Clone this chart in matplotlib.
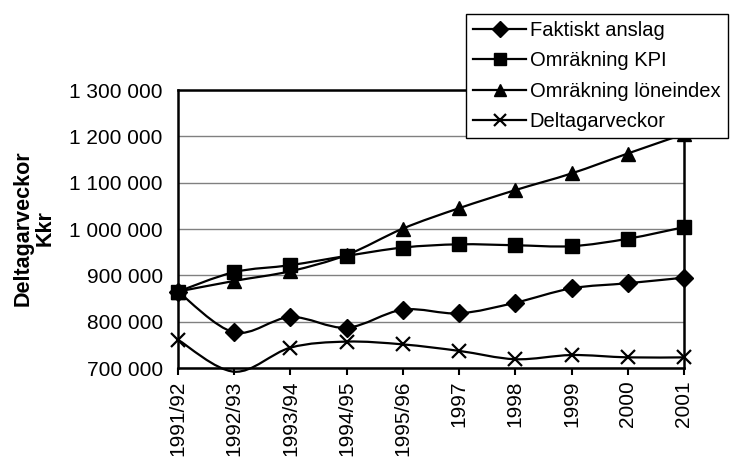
import matplotlib
matplotlib.use("Agg")
import matplotlib.pyplot as plt
import numpy as np
from matplotlib.path import Path
from matplotlib.patches import PathPatch
from matplotlib.lines import Line2D

plt.rcParams["font.family"] = ["Liberation Sans", "DejaVu Sans"]

years = ["1991/92", "1992/93", "1993/94", "1994/95", "1995/96",
         "1997", "1998", "1999", "2000", "2001"]
faktiskt = [865000, 777000, 810000, 787000, 826000, 818000, 841000, 872000, 883000, 895000]
kpi = [865000, 907000, 922000, 942000, 960000, 967000, 965000, 963000, 979000, 1004000]
loneindex = [865000, 888000, 909000, 944000, 1001000, 1045000, 1084000, 1120000, 1163000, 1205000]
deltagar = [761000, 692000, 744000, 757000, 751000, 737000, 719000, 728000, 723000, 723000]

series = [
    ("Faktiskt anslag", faktiskt, "D", 9),
    ("Omräkning KPI", kpi, "s", 10),
    ("Omräkning löneindex", loneindex, "^", 10),
    ("Deltagarveckor", deltagar, "x", 10),
]

ymin, ymax = 700000, 1300000


def smooth_path(x, y):
    # Excel-style smoothed line: cubic bezier through every point
    n = len(x)
    verts = [(x[0], y[0])]
    codes = [Path.MOVETO]
    for i in range(n - 1):
        xp, yp = (x[i - 1], y[i - 1]) if i > 0 else (x[i], y[i])
        xn, yn = (x[i + 2], y[i + 2]) if i + 2 < n else (x[i + 1], y[i + 1])
        c1 = (x[i] + (x[i + 1] - xp) / 6, y[i] + (y[i + 1] - yp) / 6)
        c2 = (x[i + 1] - (xn - x[i]) / 6, y[i + 1] - (yn - y[i]) / 6)
        verts += [c1, c2, (x[i + 1], y[i + 1])]
        codes += [Path.CURVE4] * 3
    return Path(verts, codes)


fig = plt.figure(figsize=(7.38, 4.57), dpi=100)
ax = fig.add_axes([0.2412, 0.1947, 0.6856, 0.6083])

xs = np.arange(len(years))
handles = []
for name, vals, mk, ms in series:
    vals = np.array(vals, dtype=float)
    ax.add_patch(PathPatch(smooth_path(xs, vals), fill=False, ec="black",
                           lw=1.6, clip_on=False, zorder=3))
    vis = vals >= ymin
    mew = 1.6 if mk == "x" else 1
    ax.plot(xs[vis], vals[vis], linestyle="none", marker=mk, ms=ms,
            color="black", mew=mew, zorder=4, clip_on=False)
    handles.append(Line2D([], [], color="black", lw=1.6, marker=mk,
                          ms=ms * 0.85, mew=mew, label=name))

ax.set_xlim(0, len(years) - 1)
ax.set_ylim(ymin, ymax)
yt = np.arange(ymin, ymax + 1, 100000)
ax.set_yticks(yt)
ax.set_yticklabels(["{:,}".format(v).replace(",", " ") for v in yt], fontsize=15)
ax.set_xticks(xs)
ax.set_xticklabels(years, rotation=90, fontsize=15)
ax.tick_params(axis="y", length=0, pad=11)
ax.tick_params(axis="x", length=5, width=1.5, direction="out", pad=4)
ax.yaxis.grid(True, color="#808080", lw=1)
ax.set_axisbelow(True)
for sp in ax.spines.values():
    sp.set_linewidth(1.8)
    sp.set_color("black")

fig.text(0.046, 0.5, "Deltagarveckor\nKkr", rotation=90, ha="center", va="center",
         fontsize=15.5, fontweight="bold", multialignment="center", linespacing=1.05)

leg = fig.legend(handles=handles, loc="upper left", bbox_to_anchor=(0.632, 0.969),
                 fontsize=14.5, frameon=True, fancybox=False, edgecolor="black",
                 framealpha=1, borderpad=0.35, labelspacing=0.56, handlelength=2.6,
                 handletextpad=0.2, borderaxespad=0)
leg.get_frame().set_linewidth(1)
leg.set_zorder(10)

fig.savefig("out.png", dpi=100)
